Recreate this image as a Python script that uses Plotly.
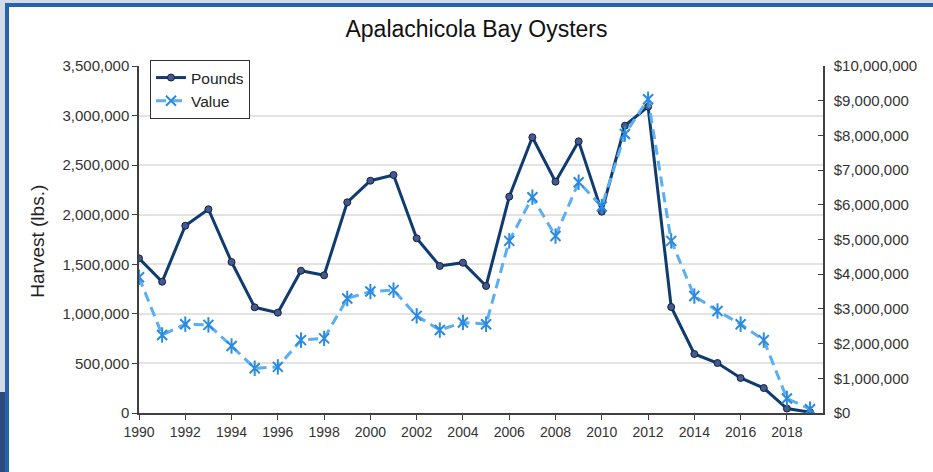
import plotly.graph_objects as go

years = list(range(1990, 2020))
pounds = [1560000, 1324000, 1889000, 2055000, 1523000, 1066000, 1012000, 1435000, 1389000, 2125000,
          2343000, 2401000, 1762000, 1483000, 1516000, 1281000, 2182000, 2781000, 2333000, 2740000,
          2031000, 2898000, 3090000, 1069000, 595000, 504000, 353000, 252000, 45000, 8000]
value = [3910000, 2250000, 2560000, 2540000, 1930000, 1290000, 1330000, 2100000, 2150000, 3300000,
         3500000, 3540000, 2800000, 2390000, 2610000, 2560000, 4960000, 6220000, 5100000, 6650000,
         5950000, 8040000, 9040000, 4960000, 3370000, 2940000, 2560000, 2100000, 420000, 110000]

W, H = 933, 472
L, R, T, B = 139, 823, 66, 413  # plot area in pixels


def px(x):
    return (x - L) / (R - L)


def py(y):
    return (B - y) / (B - T)


FONT = "Liberation Sans, Arial, sans-serif"

fig = go.Figure()
fig.add_trace(go.Scatter(
    x=years, y=pounds, name="Pounds", mode="lines+markers",
    line=dict(color="#0f3b6f", width=3),
    marker=dict(symbol="circle", size=7, color="#43598f", line=dict(color="#14213d", width=1)),
))
fig.add_trace(go.Scatter(
    x=years, y=value, name="Value", mode="lines+markers", yaxis="y2",
    line=dict(color="#5aaef2", width=3, dash="10px,6px"),
    marker=dict(symbol="x-thin-open", size=10, color="#2a8ae0", line=dict(color="#2a8ae0", width=2)),
))
fig.add_trace(go.Scatter(
    x=years, y=value, mode="markers", yaxis="y2", showlegend=False, hoverinfo="skip",
    marker=dict(symbol="line-ns-open", size=11, color="#2a8ae0", line=dict(color="#2a8ae0", width=2)),
))

shapes = [
    # light slide background strips
    dict(type="rect", xref="paper", yref="paper", x0=px(0), x1=px(W), y0=py(0), y1=py(4),
         fillcolor="#d3dce6", line=dict(width=0), layer="above"),
    dict(type="rect", xref="paper", yref="paper", x0=px(0), x1=px(5), y0=py(0), y1=py(392),
         fillcolor="#d3dce6", line=dict(width=0), layer="above"),
    dict(type="rect", xref="paper", yref="paper", x0=px(0), x1=px(5), y0=py(392), y1=py(H),
         fillcolor="#2e4a7c", line=dict(width=0), layer="above"),
    # blue frame
    dict(type="rect", xref="paper", yref="paper", x0=px(5), x1=px(W), y0=py(3), y1=py(7),
         fillcolor="#2463ad", line=dict(width=0), layer="above"),
    dict(type="rect", xref="paper", yref="paper", x0=px(5), x1=px(9), y0=py(3), y1=py(H),
         fillcolor="#2463ad", line=dict(width=0), layer="above"),
]

fig.update_layout(
    width=W, height=H,
    margin=dict(l=L, r=W - R, t=T, b=H - B, pad=0),
    paper_bgcolor="white", plot_bgcolor="white",
    font=dict(family=FONT, color="#333333"),
    title=dict(text="Apalachicola Bay Oysters", x=476.5 / W, xanchor="center",
               y=1 - 29 / H, yanchor="middle", font=dict(size=23, color="#111111")),
    xaxis=dict(range=[1990, 2019.56], tick0=1990, dtick=2, ticks="outside", ticklen=5,
               tickcolor="#404040", showline=True, linecolor="#404040", linewidth=1.5,
               showgrid=False, zeroline=False, tickfont=dict(size=14, color="#333333")),
    yaxis=dict(range=[0, 3500000], dtick=500000, tickformat=",", ticks="outside", ticklen=5,
               tickcolor="#404040", showline=True, linecolor="#404040", linewidth=1.5,
               showgrid=True, gridcolor="#e3e3e3", gridwidth=1.5, zeroline=False,
               tickfont=dict(size=15, color="#333333")),
    yaxis2=dict(range=[0, 10000000], dtick=1000000, tickformat=",", tickprefix="$",
                overlaying="y", side="right", ticks="inside", ticklen=5, tickcolor="#404040",
                showline=True, linecolor="#404040", linewidth=1.5, showgrid=False, zeroline=False,
                ticklabelstandoff=6, tickfont=dict(size=15, color="#333333")),
    legend=dict(x=px(150), y=py(89.5), xanchor="left", yanchor="middle", bgcolor="white",
                bordercolor="#333333", borderwidth=1, font=dict(size=15.5, color="#222222"),
                tracegroupgap=0, itemwidth=30),
    annotations=[dict(text="Harvest (lbs.)", textangle=-90, xref="paper", yref="paper",
                      x=px(38), y=py(241.7), xanchor="center", yanchor="middle", showarrow=False,
                      font=dict(size=19, color="#222222"))],
    shapes=shapes,
    showlegend=True,
)

fig.write_html("out.html", post_script="document.body.style.margin='0px';",
               config={"displayModeBar": False})
